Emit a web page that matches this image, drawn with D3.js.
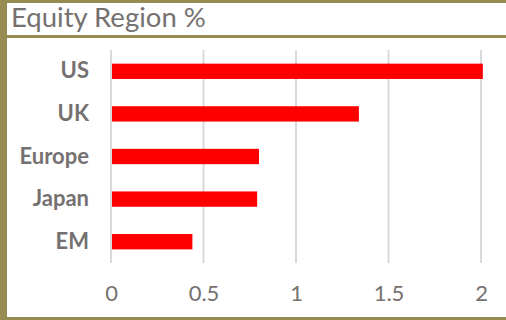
<!DOCTYPE html>
<html>
<head>
<meta charset="utf-8">
<script src="https://cdn.jsdelivr.net/npm/d3@7"></script>
<style>
  html, body { margin: 0; padding: 0; background: #ffffff; }
  svg { display: block; }
</style>
</head>
<body>
<svg id="chart" width="506" height="320"></svg>
<script>
// Equity allocation by region (%)
const regions = ["US", "UK", "Europe", "Japan", "EM"];
const weights = [2.01, 1.34, 0.80, 0.79, 0.44];
const tickValues = [0, 0.5, 1, 1.5, 2];
const tickLabels = ["0", "0.5", "1", "1.5", "2"];
const title = "Equity Region %";

const W = 506, H = 320;
const frame = "#978b52";
const textGrey = "#757171";
const gridGrey = "#d9d9d9";
const barRed = "#ff0000";

const svg = d3.select("#chart");

// Frame: white panel with olive edges and a title divider
svg.append("rect").attr("x", 0).attr("y", 0).attr("width", W).attr("height", H).attr("fill", "#ffffff");
svg.append("rect").attr("x", 0).attr("y", 0).attr("width", 7).attr("height", H).attr("fill", frame);
svg.append("rect").attr("x", 0).attr("y", 0).attr("width", W).attr("height", 3).attr("fill", frame);
svg.append("rect").attr("x", 0).attr("y", 35).attr("width", W).attr("height", 3).attr("fill", frame);
svg.append("rect").attr("x", 0).attr("y", 317).attr("width", W).attr("height", 3).attr("fill", frame);

svg.append("text")
  .attr("x", 11).attr("y", 27)
  .attr("font-family", "Lato, 'Open Sans', sans-serif")
  .attr("font-size", 27.5)
  .attr("fill", textGrey)
  .text(title);

const x = d3.scaleLinear().domain([0, 2]).range([111, 481]);
const y = d3.scaleBand().domain(regions).range([50, 263]).paddingInner(0.64).paddingOuter(0.32);

// Vertical gridlines
svg.append("g")
  .selectAll("line")
  .data(tickValues)
  .join("line")
  .attr("x1", d => x(d)).attr("x2", d => x(d))
  .attr("y1", 50).attr("y2", 263)
  .attr("stroke", gridGrey)
  .attr("stroke-width", 2);

// Bars
svg.append("g")
  .selectAll("rect")
  .data(regions)
  .join("rect")
  .attr("x", x(0) + 1)
  .attr("y", d => y(d))
  .attr("width", (d, i) => x(weights[i]) - x(0) - 1)
  .attr("height", y.bandwidth())
  .attr("fill", barRed);

// Category axis
const yAxis = svg.append("g")
  .attr("transform", "translate(89,0)")
  .call(d3.axisLeft(y).tickSize(0).tickPadding(0));
yAxis.select(".domain").remove();
yAxis.selectAll("text")
  .attr("font-family", "Lato, 'Open Sans', sans-serif")
  .attr("font-size", 22)
  .attr("font-weight", "bold")
  .attr("fill", textGrey);

// Value axis
const xAxis = svg.append("g")
  .attr("transform", "translate(0,285)")
  .call(d3.axisBottom(x).tickValues(tickValues).tickFormat((d, i) => tickLabels[i]).tickSize(0).tickPadding(0));
xAxis.select(".domain").remove();
xAxis.selectAll("text")
  .attr("font-family", "Lato, 'Open Sans', sans-serif")
  .attr("font-size", 22)
  .attr("fill", textGrey);
</script>
</body>
</html>
